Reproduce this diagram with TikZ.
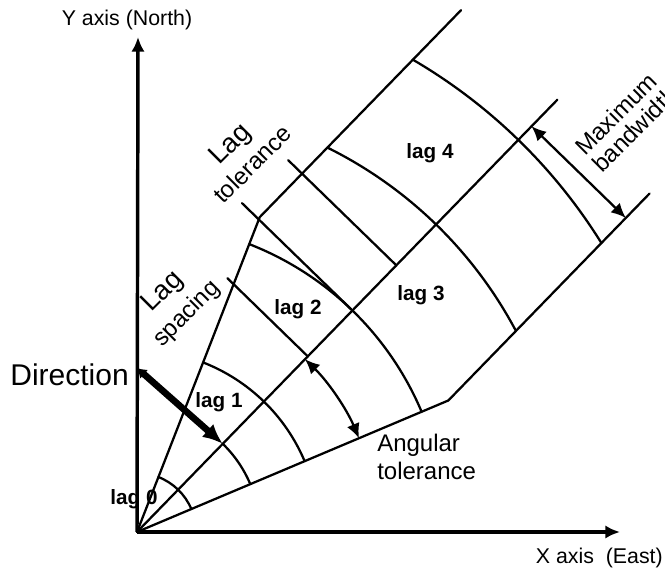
\documentclass[tikz,border=0pt]{standalone}
\usepackage{fontspec}
\setmainfont{Liberation Sans}
\usetikzlibrary{arrows.meta}
\begin{document}
\begin{tikzpicture}[x=0.75pt,y=0.75pt,
  ln/.style={line width=1.7pt, line cap=round, line join=round},
  axisline/.style={line width=2.6pt, -{Latex[length=11pt,width=10pt]}},
  dirarrow/.style={line width=5pt, {Latex[length=7pt,width=9pt]}-{Latex[length=15pt,width=13pt]}},
  dblarrow/.style={ln, {Latex[length=11pt,width=10pt]}-{Latex[length=11pt,width=10pt]}},
  axislabel/.style={inner sep=0pt, font=\fontsize{16}{18}\selectfont},
  laglabel/.style={inner sep=0pt, font=\bfseries\fontsize{15.5}{18}\selectfont},
  notelabel/.style={inner sep=0pt, font=\fontsize{18}{21}\selectfont},
  biglabel/.style={inner sep=0pt, font=\fontsize{20.5}{23}\selectfont}
]
\useasboundingbox (0,0) rectangle (665,575);
\fill[white] (0,0) rectangle (665,575);

% axes
\coordinate (O) at (137,43);
\coordinate (ytip) at (138,538);
\coordinate (xtip) at (620,43);
\draw[axisline] (O) -- (ytip);
\draw[axisline] (O) -- (xtip);
\node[axislabel] (ylab) at (127,555) {Y axis (North)};
\node[axislabel, anchor=east] (xlab) at (663,17) {X axis\ \ (East)};

% search template, in the frame of the direction
\begin{scope}[shift={(O)}, rotate=45.8]
  \coordinate (c) at (0,0);
  \coordinate (lc) at (22.9:338);
  \coordinate (rc) at (-22.9:338);
  \coordinate (ue) at (600,131.5);
  \coordinate (le) at (600,-131.5);
  \coordinate (ce) at (603,0);
  \draw[ln] (ue) -- (lc) -- (c) -- (rc) -- (le);
  \draw[ln] (c) -- (ce);
  % lag boundaries
  \draw[ln] (-22.9:59) arc[start angle=-22.9, end angle=22.9, radius=59];
  \draw[ln] (-22.9:123) arc[start angle=-22.9, end angle=0, radius=123];
  \draw[ln] (-22.9:182) arc[start angle=-22.9, end angle=22.9, radius=182];
  \draw[ln] (-22.9:309) arc[start angle=-22.9, end angle=22.9, radius=309];
  \draw[ln] (-17.85:429) arc[start angle=-17.85, end angle=17.85, radius=429];
  \draw[ln] (-13.91:547) arc[start angle=-13.91, end angle=13.91, radius=547];
  % ticks
  \coordinate (t1a) at (245,112); \coordinate (t1b) at (245,0);
  \coordinate (t2a) at (309,154); \coordinate (t2b) at (309,0);
  \coordinate (t3a) at (372,151); \coordinate (t3b) at (372,0);
  \draw[ln] (t1a) -- (t1b);
  \draw[ln] (t2a) -- (t2b);
  \draw[ln] (t3a) -- (t3b);
  % angular tolerance
  \draw[dblarrow] (0:241) arc[start angle=0, end angle=-22.9, radius=241];
  % maximum bandwidth
  \coordinate (mb1) at (566,0);
  \coordinate (mb2) at (566,-131.5);
  \draw[dblarrow] (mb1) -- (mb2);
  \coordinate (dtip) at (123,0);
\end{scope}

% direction
\coordinate (dstart) at (137,207);
\draw[dirarrow] (dstart) -- (dtip);
\node[inner sep=0pt, anchor=east, font=\fontsize{22.5}{26}\selectfont] (dirlab) at (129,200) {Direction};

% lag labels
\node[laglabel] (lag0) at (134,76) {lag 0};
\node[laglabel] (lag1) at (219,173) {lag 1};
\node[laglabel] (lag2) at (298,266) {lag 2};
\node[laglabel] (lag3) at (421,280) {lag 3};
\node[laglabel] (lag4) at (430,422) {lag 4};

% notes
\node[biglabel, rotate=45] (lsA) at (163,283) {Lag};
\node[notelabel, rotate=45] (lsB) at (187,261) {spacing};
\node[biglabel, rotate=45] (ltA) at (231,430) {Lag};
\node[notelabel, rotate=45] (ltB) at (252,411) {tolerance};
\node[notelabel, anchor=base west] (atA) at (377,123) {Angular};
\node[notelabel, anchor=base west] (atB) at (377,95) {tolerance};
\node[notelabel, rotate=45, anchor=base west] (mbA) at (585,418) {Maximum};
\node[notelabel, rotate=45, anchor=base west] (mbB) at (602,401) {bandwidth};
\end{tikzpicture}
\end{document}
